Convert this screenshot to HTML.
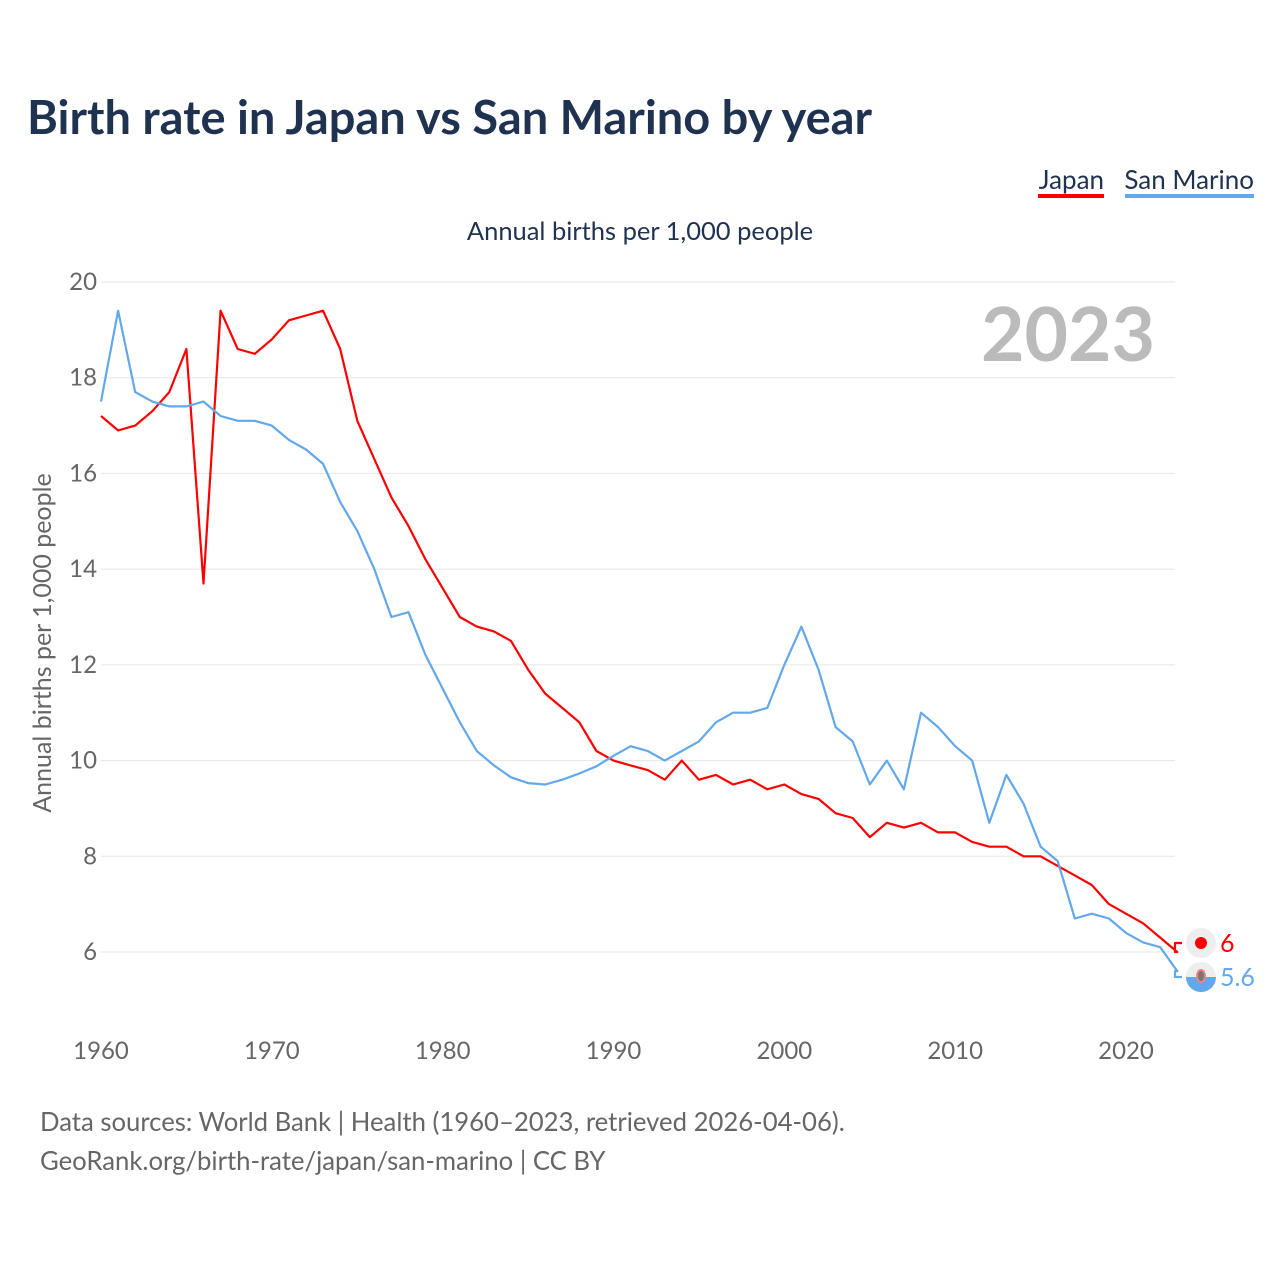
<!DOCTYPE html>
<html><head><meta charset="utf-8"><style>
body{margin:0;background:#fff;font-family:"Liberation Sans",sans-serif;}
#wrap{position:relative;width:1280px;height:1280px;overflow:hidden}
</style></head><body>
<div id="wrap">
<svg id="chart" width="1280" height="1280" xmlns="http://www.w3.org/2000/svg" font-family="Lato, 'Liberation Sans', sans-serif">
<text x="27" y="134" font-size="47" font-weight="bold" fill="#1f3250">Birth rate in Japan vs San Marino by year</text>
<g><text x="1104" y="189" font-size="26" fill="#1f3250" text-anchor="end">Japan</text><rect x="1038" y="194" width="66" height="4" fill="#f00"/></g>
<g><text x="1254" y="189" font-size="26" fill="#1f3250" text-anchor="end">San Marino</text><rect x="1125" y="194" width="129" height="4" fill="#62a8ea"/></g>
<text x="640" y="240" font-size="25.5" fill="#1f3250" text-anchor="middle">Annual births per 1,000 people</text>
<text x="1155" y="361" font-size="75" font-weight="bold" fill="#bbb" text-anchor="end">2023</text>
<text transform="translate(51,643) rotate(-90)" font-size="25" fill="#666" text-anchor="middle">Annual births per 1,000 people</text>
<g id="grid"></g><g id="series"></g>
<text x="40" y="1131" font-size="25.7" fill="#666">Data sources: World Bank | Health (1960–2023, retrieved 2026-04-06).</text>
<text x="40" y="1170" font-size="25.7" fill="#666">GeoRank.org/birth-rate/japan/san-marino | CC BY</text>
</svg></div>
<script>
const years=[];for(let y=1960;y<=2023;y++)years.push(y);
const japan=[17.2,16.9,17.0,17.3,17.7,18.6,13.7,19.4,18.6,18.5,18.8,19.2,19.3,19.4,18.6,17.1,16.3,15.5,14.9,14.2,13.6,13.0,12.8,12.7,12.5,11.9,11.4,11.1,10.8,10.2,10.0,9.9,9.8,9.6,10.0,9.6,9.7,9.5,9.6,9.4,9.5,9.3,9.2,8.9,8.8,8.4,8.7,8.6,8.7,8.5,8.5,8.3,8.2,8.2,8.0,8.0,7.8,7.6,7.4,7.0,6.8,6.6,6.3,6.0];
const sanMarino=[17.5,19.4,17.7,17.5,17.4,17.4,17.5,17.2,17.1,17.1,17.0,16.7,16.5,16.2,15.4,14.8,14.0,13.0,13.1,12.2,11.5,10.8,10.2,9.9,9.65,9.53,9.5,9.6,9.73,9.88,10.1,10.3,10.2,10.0,10.2,10.4,10.8,11.0,11.0,11.1,12.0,12.8,11.9,10.7,10.4,9.5,10.0,9.4,11.0,10.7,10.3,10.0,8.7,9.7,9.1,8.2,7.9,6.7,6.8,6.7,6.4,6.2,6.1,5.6];
const yTicks=[6,8,10,12,14,16,18,20];
const xTicks=[1960,1970,1980,1990,2000,2010,2020];
const X=y=>101+(y-1960)*(1025/60);
const Y=v=>282+(20-v)*(670/14);
const NS="http://www.w3.org/2000/svg";
function mk(t,a,p){const e=document.createElementNS(NS,t);for(const k in a)e.setAttribute(k,a[k]);p.appendChild(e);return e;}
const grid=document.getElementById('grid'),ser=document.getElementById('series');
yTicks.forEach(v=>{
 const l=mk('line',{x1:101,x2:1175,y1:Y(v),y2:Y(v),stroke:'#e6e6e6','stroke-width':1},grid);
 
 
 const t=mk('text',{x:97,y:Y(v)+8,'font-size':24,fill:'#666','text-anchor':'end'},grid);t.textContent=v;
 
 
});
xTicks.forEach(y=>{
 const t=mk('text',{x:X(y),y:1059,'font-size':24,fill:'#666','text-anchor':'middle'},grid);t.textContent=y;
 
 
});
function line(vals,col,name,labY,label){
 let d=vals.map((v,i)=>(i?'L':'M')+X(years[i]).toFixed(1)+','+Y(v).toFixed(1)).join('');
 const last=Y(vals[vals.length-1]);
 d+='L1175,'+last.toFixed(1)+'L1175,'+labY+'L1182,'+labY;
 const p=mk('path',{d:d,fill:'none',stroke:col,'stroke-width':2.2,'stroke-linejoin':'round'},ser);
 
 
 const c=mk('circle',{cx:1201,cy:labY,r:15,fill:'#eee'},ser);
 
 
 const t=mk('text',{x:1220,y:labY+9,'font-size':25,fill:col},ser);t.textContent=label;
 
 
}
line(japan,'#ff0000','japan',943,japan[japan.length-1]);
line(sanMarino,'#62a8ea','san-marino',977,sanMarino[sanMarino.length-1]);
const jd=mk('circle',{cx:1201,cy:943,r:6,fill:'#f00'},ser);


const sm=mk('path',{d:'M1186,977 A15,15 0 0 0 1216,977 Z',fill:'#62a8ea'},ser);


const sc=mk('ellipse',{cx:1201,cy:976,rx:4,ry:6,fill:'#777',stroke:'#f08080','stroke-width':2},ser);


</script>
</body></html>
